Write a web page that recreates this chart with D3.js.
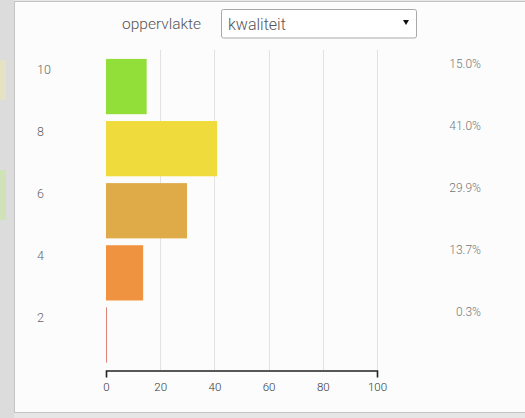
<!DOCTYPE html>
<html>
<head>
<meta charset="utf-8">
<script src="https://cdn.jsdelivr.net/npm/d3@7"></script>
<style>
  html, body { margin: 0; padding: 0; background: #e6e6e6; }
  svg { display: block; font-family: Roboto, "Open Sans", sans-serif; }
</style>
</head>
<body>
<svg id="chart" width="525" height="418"></svg>
<script>
const categories = ["10", "8", "6", "4", "2"];
const values = [15.0, 41.0, 29.9, 13.7, 0.3];
const pctLabels = ["15.0%", "41.0%", "29.9%", "13.7%", "0.3%"];
const barColors = ["#92df3a", "#efdc3c", "#dfab48", "#f09340", "#d9756a"];
const xTicks = [0, 20, 40, 60, 80, 100];
const xDomain = [0, 100];
const selectLabel = "oppervlakte";
const selectValue = "kwaliteit";

const svg = d3.select("#chart");

// background strip & panel
svg.append("rect").attr("x", 0).attr("y", 0).attr("width", 14).attr("height", 418).attr("fill", "#dcdcdc");
svg.append("rect").attr("x", 0).attr("y", 60).attr("width", 6).attr("height", 40).attr("fill", "#e8e6b0").attr("opacity", 0.6);
svg.append("rect").attr("x", 0).attr("y", 170).attr("width", 6).attr("height", 50).attr("fill", "#c8e6a0").attr("opacity", 0.6);
svg.append("rect").attr("x", 14.5).attr("y", 1.5).attr("width", 520).attr("height", 411)
  .attr("fill", "#fcfcfc").attr("stroke", "#c4c4c4").attr("stroke-width", 1);

// select control
svg.append("text").attr("x", 122).attr("y", 29).attr("font-size", 15.5).attr("font-weight", 300).attr("fill", "#555").text(selectLabel);
svg.append("rect").attr("x", 221.5).attr("y", 9.5).attr("width", 195).attr("height", 28.5).attr("rx", 2)
  .attr("fill", "#fff").attr("stroke", "#a9a9a9");
svg.append("text").attr("x", 228).attr("y", 30).attr("font-size", 16).attr("font-weight", 300).attr("fill", "#555").text(selectValue);
svg.append("path").attr("d", "M403,20 L409,20 L406,25 Z").attr("fill", "#111");

const x = d3.scaleLinear().domain(xDomain).range([106, 377]);
const y = d3.scaleBand().domain(categories).range([55.5, 366]).paddingInner(0.11).paddingOuter(0.055);

// gridlines
svg.append("g").selectAll("line").data(xTicks.slice(1)).join("line")
  .attr("x1", d => Math.round(x(d)) + 0.5).attr("x2", d => Math.round(x(d)) + 0.5)
  .attr("y1", 50).attr("y2", 370).attr("stroke", "#e2e2e2").attr("stroke-width", 1);

// bars
svg.append("g").selectAll("rect").data(categories).join("rect")
  .attr("x", x(0))
  .attr("y", d => y(d))
  .attr("width", (d, i) => Math.max(0.9, x(values[i]) - x(0)))
  .attr("height", y.bandwidth())
  .attr("fill", (d, i) => barColors[i]);

// axis
const axis = d3.axisBottom(x).tickValues(xTicks).tickSize(0).tickSizeOuter(7).tickPadding(12);
const gx = svg.append("g").attr("transform", "translate(0,370.5)").call(axis);
gx.select(".domain").attr("stroke", "#222").attr("stroke-width", 1.6);
gx.selectAll("text").attr("font-size", 11.5).attr("fill", "#333").attr("font-weight", 300).attr("font-family", "Roboto, sans-serif");

// category labels
svg.append("g").selectAll("text").data(categories).join("text")
  .attr("x", 37).attr("y", d => y(d) + 15)
  .attr("font-size", 12.5).attr("font-weight", 300).attr("fill", "#666").text(d => d);

// percent labels
svg.append("g").selectAll("text").data(categories).join("text")
  .attr("x", 481).attr("y", d => y(d) + 9)
  .attr("text-anchor", "end")
  .attr("font-size", 12).attr("font-weight", 300).attr("fill", "#777").text((d, i) => pctLabels[i]);
</script>
</body>
</html>
